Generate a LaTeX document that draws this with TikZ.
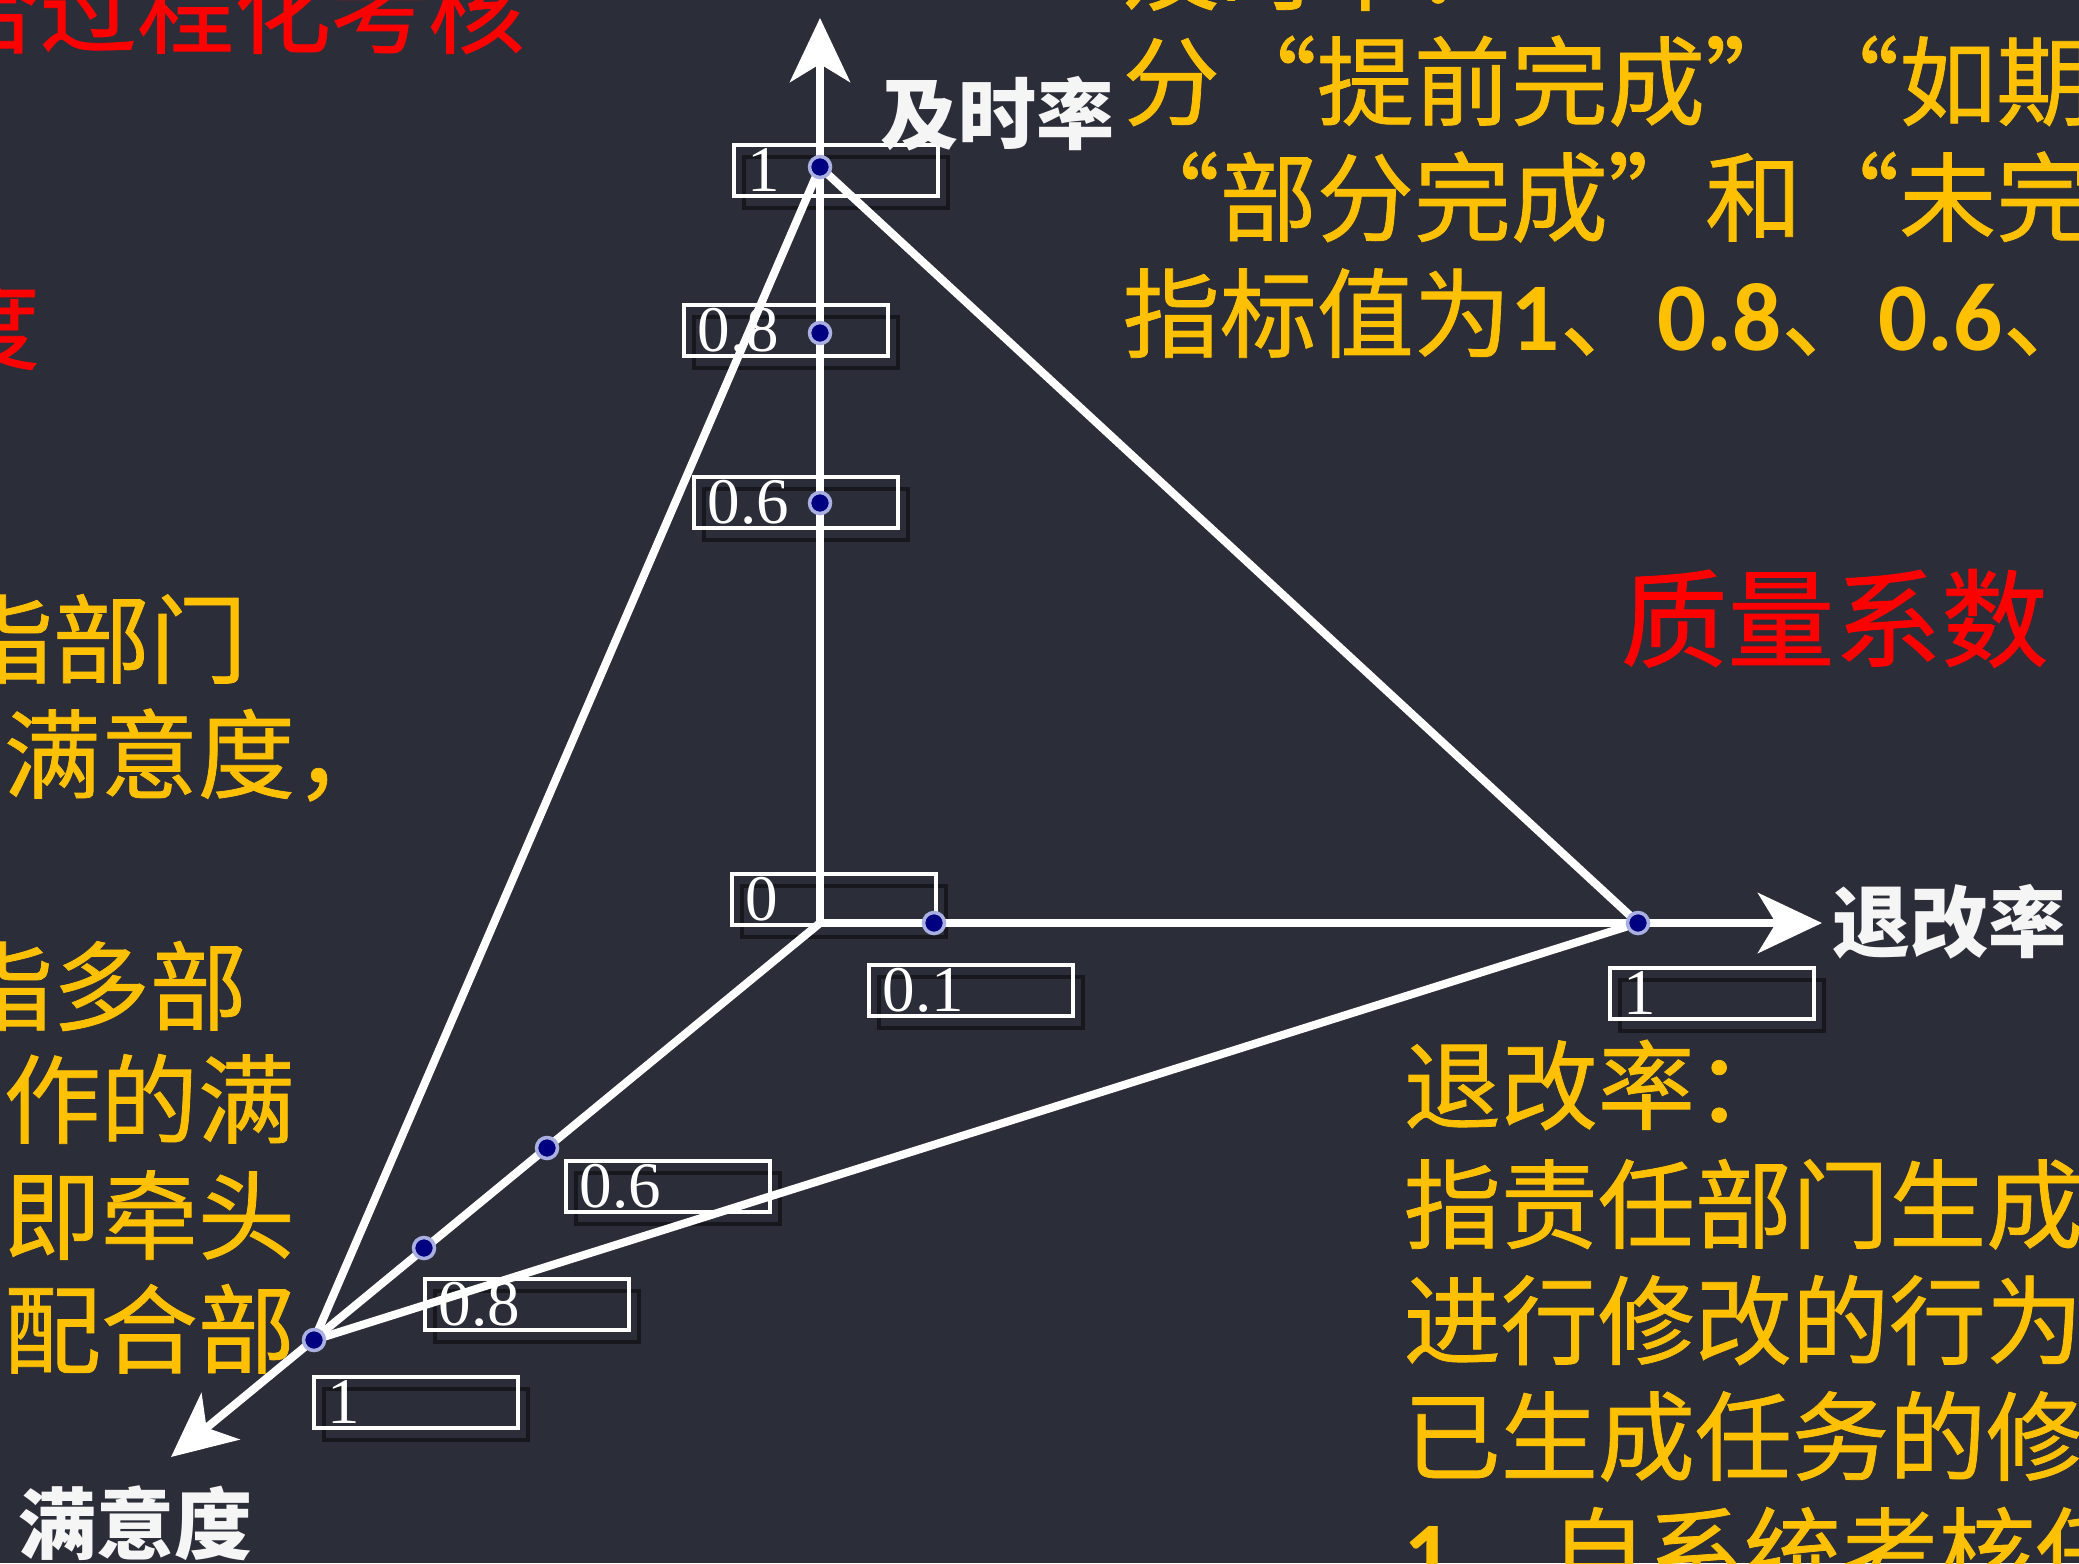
\documentclass[tikz,border=0pt]{standalone}
\usepackage{fontspec}
\usetikzlibrary{arrows.meta,shadows}
\newfontfamily\cjk[FakeBold=0.8]{Noto Sans CJK SC}
\newfontfamily\cjkhead{Noto Sans CJK SC}
\newfontfamily\numfont{Carlito}
\newfontfamily\tickfont{Liberation Serif}
\definecolor{slide}{RGB}{43,45,56}
\definecolor{gold}{RGB}{255,192,0}
\definecolor{alert}{RGB}{255,0,0}
\definecolor{dotblue}{RGB}{0,0,128}
\definecolor{halo}{RGB}{170,175,225}
\newcommand\num[1]{{\numfont\bfseries #1}}
\tikzset{
  body/.style={anchor=base west, inner sep=0pt, font=\cjk\fontsize{27.6}{33}\selectfont},
  note/.style={body, text=gold},
  warn/.style={body, text=alert},
  axislabel/.style={anchor=base west, inner sep=0pt, text=white!92!gray, font=\cjkhead\bfseries\fontsize{22.2}{26}\selectfont},
  tickbox/.style={anchor=north west, draw=white, line width=1.1pt, text=white,
    font=\tickfont\fontsize{18.5}{20}\selectfont, text width=1.76cm, align=left,
    inner xsep=0.14cm, inner ysep=0pt, minimum height=0.51cm,
    drop shadow={shadow xshift=0.1cm, shadow yshift=-0.12cm, fill=none, draw=black, opacity=0.45, line width=1.1pt}},
  axis/.style={draw=white, line width=2.3pt, -{Stealth[length=0.64cm, width=0.6cm, inset=0.18cm]}},
  edge/.style={draw=white, line width=2.3pt},
  pt/.style={circle, fill=dotblue, draw=halo, line width=1pt, minimum size=0.21cm, inner sep=0pt}
}
\begin{document}
\begin{tikzpicture}[x=0.01cm, y=-0.01cm]
  \useasboundingbox (0, 0) rectangle (2079, 1563);
  \clip (0, 0) rectangle (2079, 1563);
  \fill[slide] (0, 0) rectangle (2079, 1563);

  \node[warn] (red1) at (-58, 46) {合过程化考核};
  \node[warn] (red2) at (-58, 362) {度};
  \node[note] (left1) at (-45, 676) {指部门};
  \node[note] (left2) at (3, 791) {满意度，};
  \node[note] (left3) at (-45, 1023) {指多部};
  \node[note] (left4) at (3, 1136) {作的满};
  \node[note] (left5) at (3, 1252) {即牵头};
  \node[note] (left6) at (3, 1366) {配合部};

  \node[note] (top0) at (1122, 3) {及时率：};
  \node[note] (top1) at (1122, 118) {分“提前完成”“如期};
  \node[note] (top2) at (1122, 234) {“部分完成”和“未完};
  \node[note] (top3) at (1122, 350) {指标值为\num{1}、\num{0.8}、\num{0.6}、};
  \node[warn, font=\cjk\fontsize{30.4}{36}\selectfont] (coef) at (1620, 659) {质量系数};

  \node[note] (back0) at (1403, 1122) {退改率：};
  \node[note] (back1) at (1403, 1241) {指责任部门生成};
  \node[note] (back2) at (1403, 1357) {进行修改的行为};
  \node[note] (back3) at (1403, 1473) {已生成任务的修};
  \node[note] (back4) at (1403, 1589) {\num{1}、自系统考核任};

  \node[tickbox] (tv1) at (732, 143) {1};
  \node[tickbox] (tv08) at (682, 303) {0.8};
  \node[tickbox] (tv06) at (692, 475) {0.6};
  \node[tickbox] (to) at (730, 872) {0};
  \node[tickbox] (th01) at (867, 963) {0.1};
  \node[tickbox] (th1) at (1608, 966) {1};
  \node[tickbox] (td06) at (564, 1159) {0.6};
  \node[tickbox] (td08) at (423, 1277) {0.8};
  \node[tickbox] (td1) at (312, 1375) {1};

  \coordinate (O) at (820, 923);
  \coordinate (ytip) at (820, 18);
  \coordinate (xtip) at (1822, 923);
  \coordinate (ztip) at (171, 1457);
  \coordinate (V1) at (820, 167);
  \coordinate (V08) at (820, 333);
  \coordinate (V06) at (820, 503);
  \coordinate (H01) at (934, 923);
  \coordinate (H1) at (1638, 923);
  \coordinate (D06) at (547, 1148);
  \coordinate (D08) at (424, 1248);
  \coordinate (D1) at (314, 1340);

  \draw[axis] (O) -- (ytip);
  \draw[axis] (O) -- (xtip);
  \draw[axis] (O) -- (ztip);
  \draw[edge] (V1) -- (H1) -- (D1) -- cycle;

  \node[pt] (v1) at (V1) {};
  \node[pt] (v08) at (V08) {};
  \node[pt] (v06) at (V06) {};
  \node[pt] (h01) at (H01) {};
  \node[pt] (h1) at (H1) {};
  \node[pt] (d06) at (D06) {};
  \node[pt] (d08) at (D08) {};
  \node[pt] (d1) at (D1) {};

  \node[axislabel] (ylab) at (880, 143) {及时率};
  \node[axislabel] (xlab) at (1832, 951) {退改率};
  \node[axislabel] (zlab) at (18, 1553) {满意度};
\end{tikzpicture}
\end{document}
